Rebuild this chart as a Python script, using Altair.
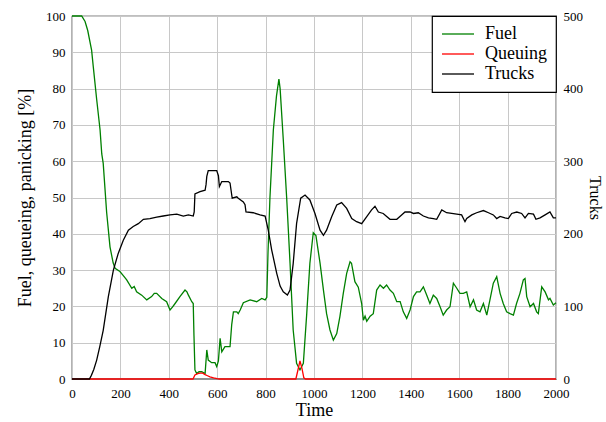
import altair as alt
import pandas as pd

# ---- data ----
fuel_t = [0, 40, 54, 65, 81, 88, 102, 116, 123, 129, 143, 157, 170, 178, 198, 212, 226, 247, 257, 267,
          288, 309, 329, 340, 350, 371, 391, 405, 415, 426, 446, 467, 475, 481, 495, 501, 504, 508, 515, 525,
          536, 550, 557, 563, 577, 591, 598, 605, 612, 619, 632, 653, 660, 667, 681, 687, 695, 708, 736, 763,
          784, 798, 805, 810, 818, 832, 845, 855, 860, 873, 887, 901, 914, 928, 942, 956, 970, 983, 997, 1008,
          1025, 1039, 1052, 1066, 1080, 1094, 1107, 1121, 1135, 1149, 1155, 1169, 1183, 1197, 1204, 1211, 1218, 1232, 1245, 1259,
          1273, 1287, 1300, 1314, 1328, 1342, 1356, 1369, 1383, 1397, 1411, 1424, 1438, 1452, 1466, 1479, 1493, 1507, 1521, 1534,
          1548, 1562, 1576, 1590, 1603, 1617, 1631, 1645, 1659, 1672, 1686, 1700, 1714, 1727, 1741, 1755, 1769, 1782, 1796, 1810,
          1824, 1837, 1851, 1865, 1872, 1879, 1893, 1907, 1920, 1927, 1941, 1955, 1969, 1975, 1989, 2000]
fuel_v = [100, 100, 98.5, 96, 90.6, 86, 77, 68.6, 62, 59.4, 46, 36.4, 32, 30.5, 29.6, 28.5, 27.3, 25, 25.5, 24,
          23.1, 21.8, 22.7, 23.6, 23.6, 22.2, 21.3, 19, 19.8, 20.8, 22.7, 24.5, 24, 23.1, 21.3, 20.8, 12, 2.5, 1.5, 2,
          2, 1.5, 8, 5.2, 4.5, 4.5, 3.4, 5, 11.2, 7.5, 8.9, 8.9, 15, 18.5, 18.5, 18, 19, 21, 21.8, 21.3,
          22.2, 21.8, 22.5, 35, 50, 68.6, 78, 82.6, 80, 66, 50, 31.9, 13.5, 4.3, 2.5, 4.3, 18, 31.9, 40.3, 39.5,
          31.9, 24.5, 18, 13.5, 10.7, 12.5, 17.2, 23.6, 29.1, 32.3, 31.9, 26.8, 25.3, 20.8, 16.2, 17.3, 15.9, 17.3, 18, 24.5,
          25.9, 25, 25.9, 24.5, 23.6, 21.3, 21.3, 18.5, 16.7, 19, 22.7, 24, 24, 25.4, 23.1, 20.8, 23.1, 22.2, 19.9, 17.6,
          19, 19.9, 26.4, 25, 23.6, 23.6, 24, 19.9, 21.8, 19, 18.5, 20.8, 17.6, 21.8, 26.4, 28.2, 23.6, 20.8, 18.5, 18,
          17.6, 20.8, 23.6, 27.3, 27.7, 22.7, 19.9, 20.8, 18.5, 18, 25.4, 24, 21.8, 22.2, 20.4, 21]

queue_t = [0, 500, 508, 520, 529, 540, 550, 560, 570, 585, 600, 610, 925, 932, 942, 950, 958, 965, 2000]
queue_v = [0, 0, 1.1, 1.5, 1.6, 1.6, 1.2, 0.9, 0.6, 0.3, 0.1, 0, 0, 2, 5, 3, 0.3, 0, 0]

panic_t = [0, 2000]
panic_v = [0, 0]

trucks_t = [0, 72, 80, 90, 102, 115, 129, 150, 171, 191, 212, 233, 253, 274, 295, 322, 350, 377, 405, 433,
            460, 481, 501, 505, 508, 529, 550, 554, 557, 563, 598, 605, 609, 619, 646, 653, 662, 681, 687, 708,
            715, 719, 749, 777, 798, 811, 825, 846, 860, 873, 890, 901, 914, 928, 945, 963, 983, 1004, 1025, 1039,
            1052, 1073, 1094, 1114, 1135, 1156, 1176, 1197, 1218, 1238, 1252, 1266, 1286, 1314, 1342, 1362, 1376, 1397, 1411, 1431,
            1452, 1473, 1493, 1507, 1528, 1548, 1569, 1590, 1610, 1624, 1631, 1652, 1672, 1700, 1721, 1741, 1755, 1769, 1789, 1803,
            1817, 1838, 1858, 1872, 1886, 1907, 1917, 1934, 1955, 1975, 1989, 2000]
trucks_v = [0, 0, 5, 13, 26, 45, 67, 113, 150, 173, 191, 205, 210, 214, 220, 221, 223, 224.5, 226, 227,
            224.5, 226, 224.5, 230, 255, 258, 260, 268, 279, 287, 287, 280, 265, 272, 272, 270, 249, 251, 249, 244,
            240, 230, 229, 226, 224.5, 205, 178, 145.6, 128, 120, 115.7, 122.6, 159, 214, 249, 253.4, 246.6, 228, 205, 198,
            205, 223.6, 239.7, 243, 235, 221, 216.7, 214, 223.6, 233, 238, 230, 228, 220, 220, 226, 230, 230, 228, 229,
            224.5, 222, 221, 220, 233, 229, 228, 227, 226, 216.7, 221, 226, 229, 232, 229, 226, 221, 224, 222, 221,
            228, 230, 228, 222, 228, 227, 220, 222, 226, 230, 222, 222]

series_names = ["Fuel", "Queuing", "Trucks"]
series_colors = ["#008000", "#ff0000", "#000000"]

FONT = "Liberation Serif"

left_df = pd.concat([
    pd.DataFrame({"t": panic_t, "v": panic_v, "s": "Panicking"}),
    pd.DataFrame({"t": fuel_t, "v": fuel_v, "s": "Fuel"}),
    pd.DataFrame({"t": queue_t, "v": queue_v, "s": "Queuing"}),
])
trucks_df = pd.DataFrame({"t": trucks_t, "v": trucks_v, "s": "Trucks"})

x_enc = alt.X("t:Q", title="Time",
              scale=alt.Scale(domain=[0, 2000], nice=False, zero=False),
              axis=alt.Axis(values=list(range(0, 2001, 200)), grid=True, ticks=False, format="d",
                            labelPadding=8, titlePadding=1, labelOverlap=False, labelFlush=False))

color_scale = alt.Scale(domain=["Panicking"] + series_names,
                        range=["#808080"] + series_colors)
legend = alt.Legend(values=series_names, title=None)

left = alt.Chart(left_df).mark_line(strokeWidth=1.3).encode(
    x=x_enc,
    y=alt.Y("v:Q", title="Fuel, queueing, panicking [%]",
            scale=alt.Scale(domain=[0, 100], nice=False),
            axis=alt.Axis(values=list(range(0, 101, 10)), grid=True, ticks=False,
                          labelPadding=7, titlePadding=11, labelOverlap=False, labelFlush=False)),
    color=alt.Color("s:N", scale=color_scale, legend=legend),
)

right = alt.Chart(trucks_df).mark_line(strokeWidth=1.3).encode(
    x=x_enc,
    y=alt.Y("v:Q", title="Trucks",
            scale=alt.Scale(domain=[0, 500], nice=False),
            axis=alt.Axis(orient="right", values=list(range(0, 501, 100)), grid=False, ticks=False,
                          labelPadding=7, titlePadding=4, titleAngle=90, titleFontSize=16,
                          labelOverlap=False, labelFlush=False)),
    color=alt.Color("s:N", scale=color_scale, legend=legend),
)

chart = alt.layer(left, right).resolve_scale(y="independent").properties(
    width=484, height=363,
    autosize=alt.AutoSizeParams(type="none"),
    padding={"left": 72, "top": 16, "right": 50, "bottom": 43},
).configure_view(
    stroke="black", strokeWidth=1.2
).configure_axis(
    labelFont=FONT, titleFont=FONT, labelFontSize=13, titleFontSize=18,
    labelColor="black", titleColor="black", titleFontWeight="normal",
    gridColor="#c8c8c8", gridWidth=1, domain=False,
).configure_legend(
    orient="top-right", offset=0, strokeColor="black", strokeWidth=1.2,
    fillColor="white", padding=9, cornerRadius=0,
    labelFont=FONT, labelFontSize=18, labelColor="black",
    symbolType="M-2,0H2", symbolSize=256, symbolStrokeWidth=1.3,
    symbolOffset=8, rowPadding=2, labelOffset=18,
)

chart.save("out.html", embed_options={"renderer": "svg", "actions": False})
